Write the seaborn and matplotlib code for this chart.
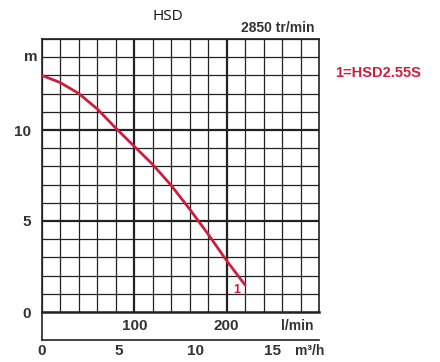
import numpy as np
import pandas as pd
import matplotlib
matplotlib.use("Agg")
import matplotlib.pyplot as plt
import seaborn as sns

sns.set_style("white")
plt.rcParams['font.family'] = ['Liberation Sans', 'DejaVu Sans']

# curve: flow (l/min) vs head (m)
flow_lmin = [0, 20, 40, 60, 80, 100, 120, 140, 160, 180, 200, 220]
head_m = [13.0, 12.6, 12.0, 11.15, 10.1, 9.1, 8.1, 6.95, 5.65, 4.27, 2.82, 1.48]
curve = pd.DataFrame({'Q': flow_lmin, 'H': head_m})

y_ticks = [0, 5, 10]
lmin_ticks = [100, 200]
m3h_ticks = [0, 5, 10, 15]
red = '#cc1f3d'
txt = '#333333'

fig = plt.figure(figsize=(4.4, 3.62), dpi=100)
ax = fig.add_axes([42/440, 50/362, 277/440, 273/362])
strip = fig.add_axes([42/440, 22/362, 277/440, 28/362])

# grid
for q in range(0, 301, 20):
    lw = 1.6 if q in (100, 200) else 0.9
    ax.axvline(q, color='#222222', lw=lw, zorder=1)
for h in range(0, 16):
    lw = 1.6 if h in (5, 10) else 0.9
    ax.axhline(h, color='#222222', lw=lw, zorder=1)

sns.lineplot(data=curve, x='Q', y='H', ax=ax, color=red, lw=2, zorder=3)
ax.text(211, 1.2, '1', color=red, fontsize=9, fontweight='bold', ha='center', va='center')

ax.set_xlim(0, 300)
ax.set_ylim(0, 15)
ax.set_xticks([])
ax.set_yticks(y_ticks)
ax.set_yticklabels([str(v) for v in y_ticks], fontsize=11, fontweight='bold', color=txt)
ax.tick_params(axis='y', length=0, pad=8)
ax.set_xlabel('')
ax.set_ylabel('')
for s in ax.spines.values():
    s.set_color('#222222')
    s.set_linewidth(1.2)
ax.spines['bottom'].set_linewidth(1.8)
ax.text(-12, 14, 'm', fontsize=11, fontweight='bold', color=txt, ha='center', va='center')

# lower strip: l/min labels and the m3/h axis (300 l/min = 18 m3/h)
strip.set_xlim(0, 18)
strip.set_ylim(0, 1)
strip.patch.set_alpha(0)
for v in lmin_ticks:
    strip.text(v * 0.06, 0.5, str(v), fontsize=11, fontweight='bold', color=txt, ha='center', va='center')
strip.text(16.6, 0.5, 'l/min', fontsize=10, fontweight='bold', color=txt, ha='center', va='center')
strip.set_xticks(m3h_ticks)
strip.set_xticklabels([str(v) for v in m3h_ticks], fontsize=11, fontweight='bold', color=txt)
strip.tick_params(axis='x', direction='in', length=3, color='#222222', pad=3)
strip.set_yticks([])
strip.spines['top'].set_visible(False)
strip.spines['right'].set_visible(False)
strip.spines['left'].set_color('#222222')
strip.spines['bottom'].set_color('#222222')
strip.spines['left'].set_linewidth(1.2)
strip.spines['bottom'].set_linewidth(1.2)
fig.text(310/440, 1 - 351/362, 'm³/h', fontsize=10, fontweight='bold', color=txt, ha='center', va='center')

fig.text(168/440, 1 - 17/362, 'HSD', fontsize=11, family=['Open Sans', 'DejaVu Sans'], ha='center', va='center', color='#111111')
fig.text(314/440, 1 - 28/362, '2850 tr/min', fontsize=10, fontweight='bold', color=txt, ha='right', va='center')
fig.text(378/440, 1 - 73/362, '1=HSD2.55S', fontsize=10.5, fontweight='bold', color=red, ha='center', va='center')

fig.savefig('out.png', dpi=100)
